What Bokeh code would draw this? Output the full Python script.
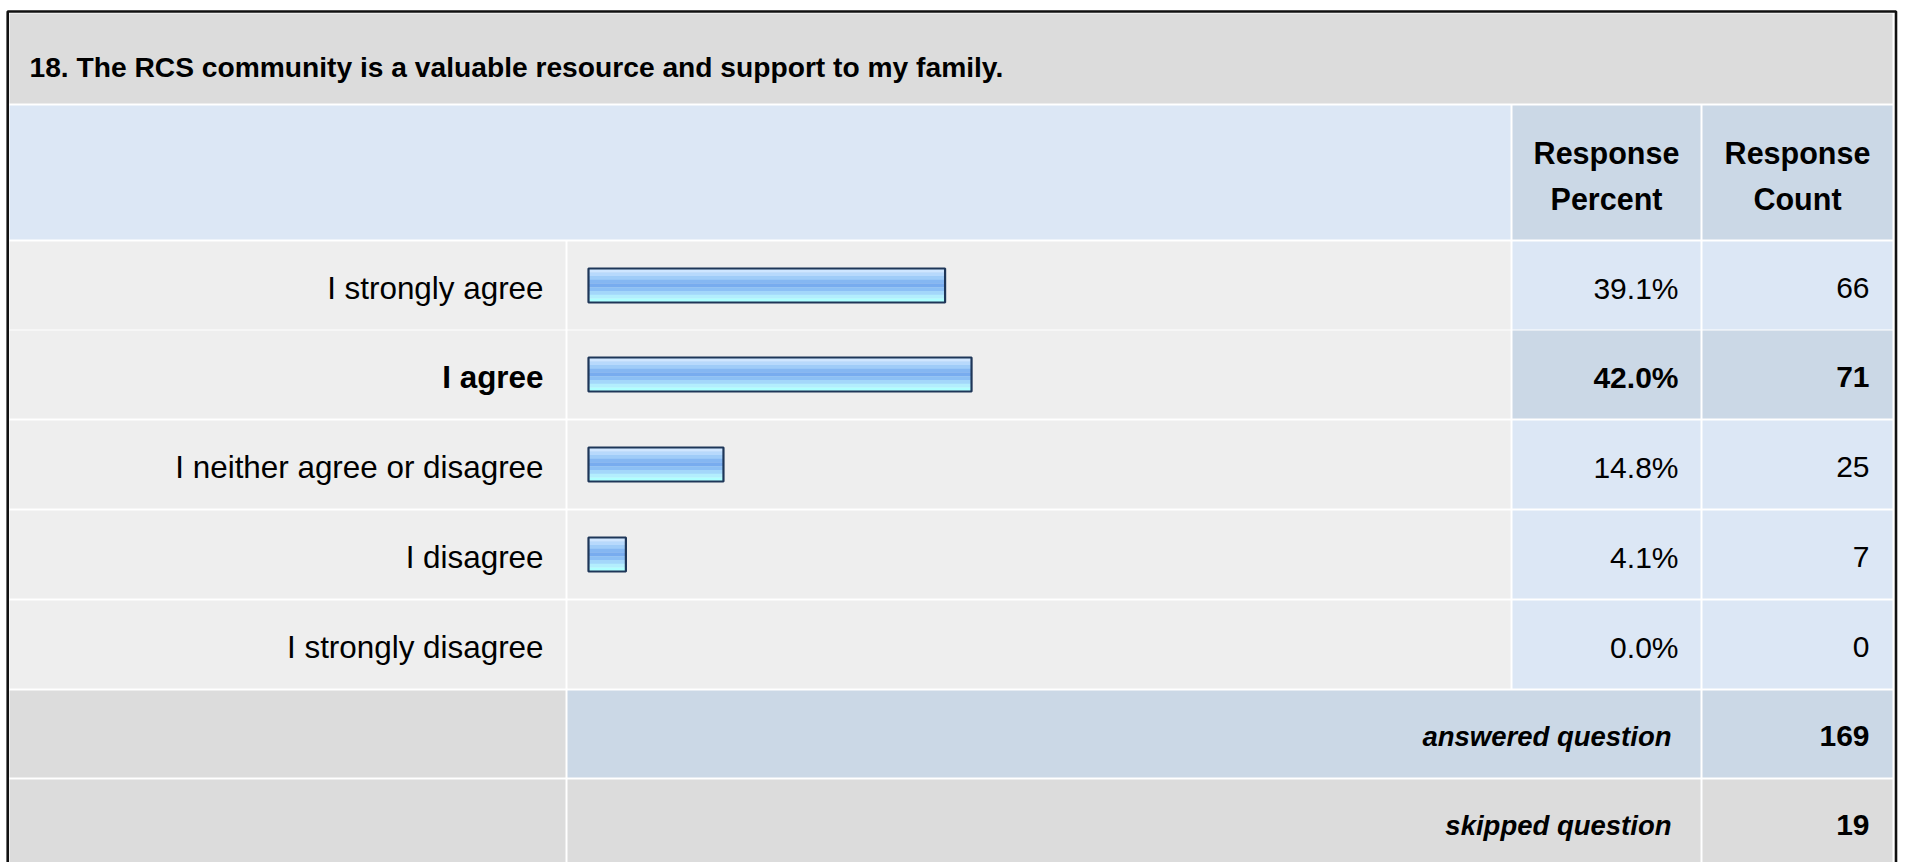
from bokeh.plotting import figure
from bokeh.models import Range1d
from bokeh.core.properties import value
from bokeh.embed import file_html
from bokeh.resources import INLINE

# ---------------- data ----------------
title = "18. The RCS community is a valuable resource and support to my family."
categories = ["I strongly agree", "I agree", "I neither agree or disagree",
              "I disagree", "I strongly disagree"]
percents = [39.1, 42.0, 14.8, 4.1, 0.0]
counts = [66, 71, 25, 7, 0]
highlight = [False, True, False, False, False]
header_cols = [["Response", "Percent"], ["Response", "Count"]]
answered_label = "answered question"
answered = 169
skipped_label = "skipped question"
skipped = 19

# ---------------- styles / layout ----------------
W, H = 1907, 862
X0, Y0 = 0, 0
SANS = "'Liberation Sans', Arial, sans-serif"

C_TITLE = "#dcdcdc"
C_HEAD_LIGHT = "#dce7f5"
C_HEAD_DARK = "#cbd8e6"
C_ROW = "#eeeeee"
C_VAL = "#dce7f5"
C_VAL_HL = "#cbd8e6"
C_GREY = "#dcdcdc"

p = figure(width=W, height=H, output_backend="svg", toolbar_location=None,
           x_range=Range1d(X0, X0 + W), y_range=Range1d(Y0 + H, Y0),
           x_axis_type=None, y_axis_type=None,
           min_border=0, min_border_left=0, min_border_right=0,
           min_border_top=0, min_border_bottom=0,
           outline_line_color=None, background_fill_color="white",
           border_fill_color="white")
p.grid.visible = False

# percent scale for bars: 0% at x=588, 100% at x=1500 (page px)
bar_x0, bar_x100 = 588.0, 1500.0
span = 100.0 * W / (bar_x100 - bar_x0)
s = -(bar_x0 - X0) / W * span
p.extra_x_ranges = {"pct": Range1d(s, s + span)}

# column edges (page px)
col_label = (9, 565)
col_bar = (567, 1510)
col_pct = (1512, 1700)
col_cnt = (1702, 1892)

def cell(x, y, color):
    p.quad(left=x[0], right=x[1], top=y[0], bottom=y[1], fill_color=color,
           line_color=None)

# title
cell((9, 1892), (13, 103), C_TITLE)
# header
cell((9, 1510), (105, 239), C_HEAD_LIGHT)
cell(col_pct, (105, 239), C_HEAD_DARK)
cell(col_cnt, (105, 239), C_HEAD_DARK)

row_tops = [241, 330, 420, 510, 600]
row_h = 88
for i, t in enumerate(row_tops):
    yb = (t, t + row_h)
    cell(col_label, yb, C_ROW)
    cell(col_bar, yb, C_ROW)
    vc = C_VAL_HL if highlight[i] else C_VAL
    cell(col_pct, yb, vc)
    cell(col_cnt, yb, vc)

# answered / skipped rows
cell(col_label, (690, 777), C_GREY)
cell((567, 1700), (690, 777), C_HEAD_DARK)
cell(col_cnt, (690, 777), C_HEAD_DARK)
cell(col_label, (779, 870), C_GREY)
cell((567, 1700), (779, 870), C_GREY)
cell(col_cnt, (779, 870), C_GREY)

# outer black frame
p.line(x=[7.2, 7.2, 1895.5, 1895.5], y=[870, 11, 11, 870],
       line_color="#111111", line_width=2.6)

# bars
row_c = [t + row_h / 2 for t in row_tops]
stripe_colors = ["#cfe6ff", "#b7d9fc", "#9fccf8", "#85b7f2", "#78acef",
                 "#8cc0f5", "#a3d7fa", "#b3eefd", "#b0ffff"]
bar_h = 34.0
vals = [v for v in percents if v > 0]
ys = [row_c[i] for i, v in enumerate(percents) if v > 0]
n = len(stripe_colors)
sh = bar_h / n
for k, col in enumerate(stripe_colors):
    off = -bar_h / 2 + sh * (k + 0.5)
    p.hbar(y=[y + off for y in ys], left=0, right=vals, height=sh + 0.3,
           fill_color=col, line_color=None, x_range_name="pct")
p.hbar(y=ys, left=0, right=vals, height=bar_h, fill_color=None,
       line_color="#1e3658", line_width=2.2, x_range_name="pct")

# texts
p.text(x=[29], y=[66], text=[title], text_font=value(SANS),
       text_font_size="28.2px", text_font_style="bold",
       text_baseline="alphabetic", text_align="left", text_color="black")

for ci, (lines, col) in enumerate(zip(header_cols, [col_pct, col_cnt])):
    xc = (col[0] + col[1]) / 2
    p.text(x=[xc, xc], y=[152, 198], text=lines, text_font=value(SANS),
           text_font_size="30.5px", text_font_style="bold",
           text_baseline="alphabetic", text_align="center", text_color="black")

for i, lab in enumerate(categories):
    bl = row_c[i] + 2.5
    st = "bold" if highlight[i] else "normal"
    p.text(x=[543], y=[bl], text=[lab], text_font=value(SANS),
           text_font_size="31.4px", text_font_style=st,
           text_baseline="alphabetic", text_align="right", text_color="black")
    p.text(x=[1678], y=[bl], text=[f"{percents[i]:.1f}%"], text_font=value(SANS),
           text_font_size="30px", text_font_style=st,
           text_baseline="alphabetic", text_align="right", text_color="black")
    p.text(x=[1869], y=[bl], text=[str(counts[i])], text_font=value(SANS),
           text_font_size="30px", text_font_style=st,
           text_baseline="alphabetic", text_align="right", text_color="black")

for lab, num, yc in [(answered_label, answered, 733.5), (skipped_label, skipped, 822.5)]:
    p.text(x=[1671], y=[yc + 2], text=[lab], text_font=value(SANS),
           text_font_size="27.5px", text_font_style="bold italic",
           text_baseline="alphabetic", text_align="right", text_color="black")
    p.text(x=[1869], y=[yc + 2], text=[str(num)], text_font=value(SANS),
           text_font_size="30px", text_font_style="bold",
           text_baseline="alphabetic", text_align="right", text_color="black")

open("out.html", "w").write(file_html(p, INLINE))
